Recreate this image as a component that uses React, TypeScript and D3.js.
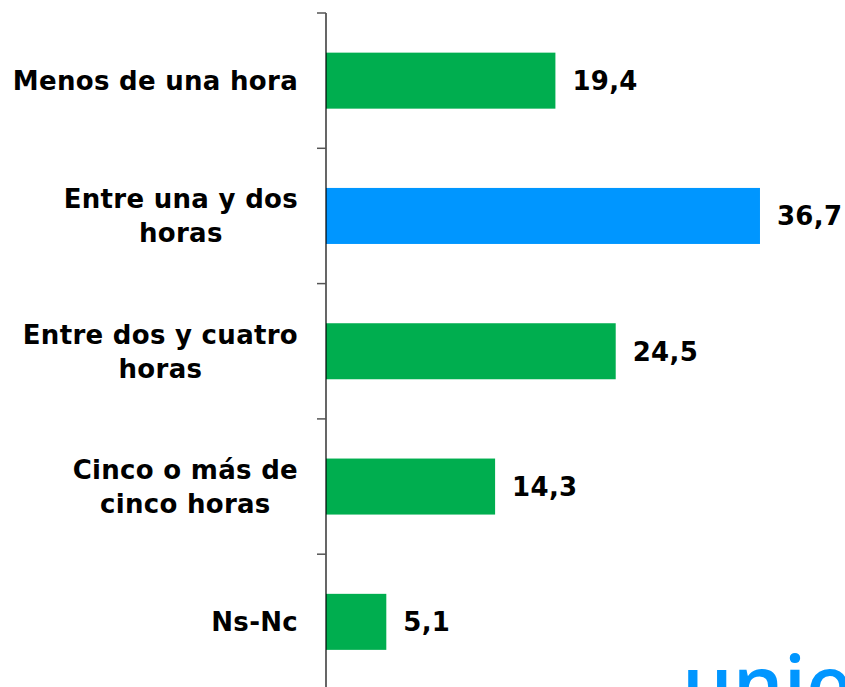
import * as d3 from "d3";
import { useEffect, useRef } from "react";

// categories (lines of each label) and values
const categories = [
  ["Menos de una hora"],
  ["Entre una y dos", "horas"],
  ["Entre dos y cuatro", "horas"],
  ["Cinco o más de", "cinco horas"],
  ["Ns-Nc"],
];
const values = [19.4, 36.7, 24.5, 14.3, 5.1];
const highlight = [false, true, false, false, false];
const valueLabels = ["19,4", "36,7", "24,5", "14,3", "5,1"];

export default function App() {
  const ref = useRef<SVGSVGElement>(null);

  useEffect(() => {
    const svg = d3.select(ref.current);
    svg.selectAll("*").remove();

    const H = 687;
    const axisX = 326;
    const top = 13;
    const step = 135.3;
    const font = "'DejaVu Sans', Verdana, sans-serif";
    const fs = 26;

    const x = d3.scaleLinear().domain([0, 40]).range([axisX, axisX + 473]);
    const y = d3
      .scaleBand<number>()
      .domain(d3.range(categories.length))
      .range([top, top + step * categories.length])
      .paddingInner(0.586)
      .paddingOuter(0.293);

    // bars
    svg
      .append("g")
      .selectAll("rect")
      .data(values)
      .enter()
      .append("rect")
      .attr("x", x(0))
      .attr("y", (d, i) => y(i)!)
      .attr("width", (d) => x(d) - x(0))
      .attr("height", y.bandwidth())
      .attr("fill", (d, i) => (highlight[i] ? "#0096ff" : "#00ae4f"));

    // axis line + ticks at band edges
    const g = svg.append("g");
    g.append("line")
      .attr("x1", axisX)
      .attr("x2", axisX)
      .attr("y1", top)
      .attr("y2", H)
      .attr("stroke", "#000")
      .attr("stroke-width", 1.2);
    g.selectAll(".tick")
      .data(d3.range(categories.length))
      .enter()
      .append("line")
      .attr("x1", axisX - 9)
      .attr("x2", axisX)
      .attr("y1", (i) => top + i * step)
      .attr("y2", (i) => top + i * step)
      .attr("stroke", "#555")
      .attr("stroke-width", 1.5);

    // value labels
    svg
      .append("g")
      .selectAll("text")
      .data(values)
      .enter()
      .append("text")
      .attr("x", (d) => x(d) + 17)
      .attr("y", (d, i) => y(i)! + y.bandwidth() / 2)
      .attr("dy", "0.36em")
      .attr("font-family", font)
      .attr("font-weight", "bold")
      .attr("font-size", fs)
      .attr("letter-spacing", 0.3)
      .attr("fill", "#000")
      .text((d, i) => valueLabels[i]);

    // category labels: lines centred on each other, block right-aligned
    const labelRight = 298;
    const lineH = 34;
    categories.forEach((lines, i) => {
      const cy = y(i)! + y.bandwidth() / 2;
      const t = svg
        .append("text")
        .attr("font-family", font)
        .attr("font-weight", "bold")
        .attr("font-size", fs)
        .attr("letter-spacing", 0.3)
        .attr("fill", "#000")
        .attr("text-anchor", "middle");
      const spans = lines.map((l, j) =>
        t
          .append("tspan")
          .attr("y", cy + (j - (lines.length - 1) / 2) * lineH)
          .attr("dy", "0.36em")
          .text(l)
      );
      const maxW = d3.max(spans, (s) => (s.node() as SVGTSpanElement).getComputedTextLength()) || 0;
      spans.forEach((s) => s.attr("x", labelRight - maxW / 2));
    });

    // partly visible logo text in the corner (cut off in the original too)
    svg
      .append("text")
      .attr("x", 682)
      .attr("y", 713)
      .attr("font-family", "'Open Sans', sans-serif")
      .attr("font-weight", 600)
      .attr("font-size", 80)
      .attr("fill", "#0096ff")
      .text("unie");
  }, []);

  return (
    <svg
      ref={ref}
      width={845}
      height={687}
      style={{ position: "absolute", left: 0, top: 0, background: "#fff" }}
    ></svg>
  );
}
